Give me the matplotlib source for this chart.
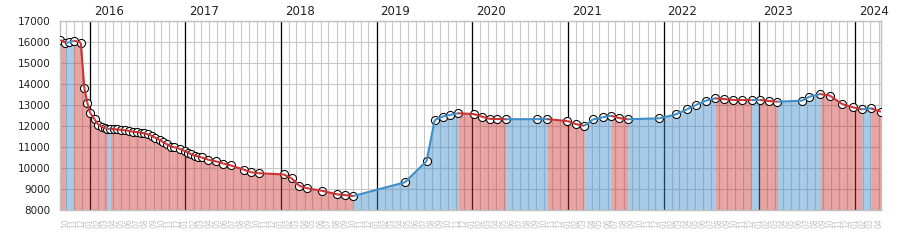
import matplotlib
matplotlib.use("Agg")
import matplotlib.pyplot as plt
import matplotlib.dates as mdates
import pandas as pd

# price history
dates = pd.to_datetime([
    "2015-09-11", "2015-09-30", "2015-10-15", "2015-11-01", "2015-11-28",
    "2015-12-12", "2015-12-23", "2016-01-03", "2016-01-20", "2016-02-03",
    "2016-02-16", "2016-03-01", "2016-03-09", "2016-03-20", "2016-04-02",
    "2016-04-15", "2016-05-01", "2016-05-16", "2016-05-31", "2016-06-15",
    "2016-07-01", "2016-07-14", "2016-07-27", "2016-08-12", "2016-08-26",
    "2016-09-07", "2016-09-24", "2016-10-09", "2016-10-22", "2016-11-06",
    "2016-11-19", "2016-12-12", "2016-12-29", "2017-01-11", "2017-01-22",
    "2017-02-05", "2017-02-18", "2017-03-04", "2017-03-29", "2017-04-28",
    "2017-05-26", "2017-06-23", "2017-08-11", "2017-09-10", "2017-10-08",
    "2018-01-11", "2018-02-10", "2018-03-12", "2018-04-11", "2018-06-06",
    "2018-08-02", "2018-09-02", "2018-10-03", "2019-04-19", "2019-07-11",
    "2019-08-11", "2019-09-10", "2019-10-08", "2019-11-08", "2020-01-08",
    "2020-02-08", "2020-03-08", "2020-04-05", "2020-05-09", "2020-09-05",
    "2020-10-13", "2020-12-30", "2021-02-01", "2021-03-04", "2021-04-07",
    "2021-05-13", "2021-06-14", "2021-07-15", "2021-08-17", "2021-12-16",
    "2022-02-18", "2022-03-31", "2022-05-05", "2022-06-11", "2022-07-16",
    "2022-08-20", "2022-09-24", "2022-10-28", "2022-12-03", "2023-01-03",
    "2023-02-08", "2023-03-12", "2023-06-13", "2023-07-12", "2023-08-22",
    "2023-09-29", "2023-11-13", "2023-12-26", "2024-01-29", "2024-03-03",
    "2024-04-10",
])
prices = [
    16080, 15960, 15965, 16050, 15960,
    13790, 13100, 12600, 12310, 12060,
    11950, 11880, 11850, 11860, 11840,
    11830, 11810, 11790, 11760, 11720,
    11700, 11670, 11640, 11590, 11520,
    11440, 11330, 11220, 11120, 11010,
    10990, 10900, 10800, 10730, 10650,
    10580, 10540, 10500, 10390, 10310,
    10210, 10120, 9920, 9790, 9750,
    9690, 9506, 9150, 9031, 8916,
    8745, 8712, 8660, 9316, 10330,
    12280, 12440, 12520, 12600, 12560,
    12435, 12330, 12325, 12315, 12318,
    12320, 12230, 12080, 12000, 12310,
    12407, 12483, 12370, 12312, 12359,
    12549, 12787, 12992, 13196, 13310,
    13277, 13229, 13228, 13227, 13235,
    13182, 13148, 13196, 13386, 13515,
    13434, 13039, 12882, 12787, 12835,
    12673,
]
years = [2016, 2017, 2018, 2019, 2020, 2021, 2022, 2023, 2024]
y_ticks = [8000, 9000, 10000, 11000, 12000, 13000, 14000, 15000, 16000, 17000]

RED = "#cc3333"
BLUE = "#3d8dc8"
BASE = 8000

fig = plt.figure(figsize=(9, 2.5), dpi=100)
ax = fig.add_axes([0.067, 0.16, 0.9118, 0.7572])

# per-interval fill + line, coloured by direction
for i in range(len(prices) - 1):
    c = RED if prices[i + 1] < prices[i] else BLUE
    xs = dates[i:i + 2]
    ys = prices[i:i + 2]
    ax.fill_between(xs, ys, BASE, color=c, alpha=0.45, lw=0, zorder=2, antialiased=False)
    ax.plot(xs, ys, color=c, lw=1.5, zorder=5, solid_capstyle="butt")

ax.plot(dates, prices, "o", ms=5.8, mfc="white", mec="black", mew=0.75, zorder=4)

# year boundaries + labels on top
for yr in years:
    d = pd.Timestamp(f"{yr}-01-01")
    ax.axvline(d, color="black", lw=0.9, zorder=1)
    ax.annotate(str(yr), xy=(mdates.date2num(d), 1.0), xycoords=("data", "axes fraction"),
                xytext=(4, 3), textcoords="offset pixels", ha="left", va="bottom",
                fontsize=8.5, color="#222222")

ax.set_xlim(dates[0], dates[-1])
ax.set_ylim(8000, 17000)
ax.set_yticks(y_ticks)
ax.set_yticklabels([str(v) for v in y_ticks])

ax.xaxis.set_major_locator(mdates.MonthLocator())
ax.xaxis.set_major_formatter(mdates.DateFormatter("%m"))
ax.grid(True, color="#c8c8c8", lw=0.8, zorder=0)
ax.set_axisbelow(True)

ax.tick_params(axis="y", length=0, pad=7, labelsize=7.5, labelcolor="#222222")
ax.tick_params(axis="x", length=0, pad=6, labelsize=5.5, labelcolor="#c0c0c0", labelrotation=90)
for s in ax.spines.values():
    s.set_color("#c0c0c0")
    s.set_linewidth(1.0)

fig.savefig("out.png", dpi=100)
